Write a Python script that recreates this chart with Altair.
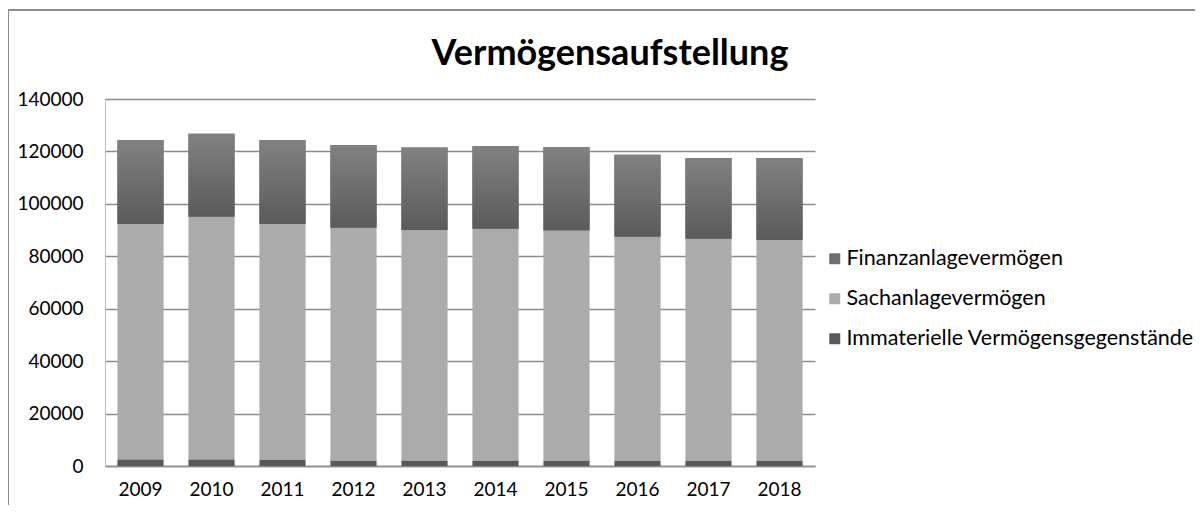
import altair as alt
import pandas as pd

title_text = "Vermögensaufstellung"
years = ["2009", "2010", "2011", "2012", "2013", "2014", "2015", "2016", "2017", "2018"]
immaterielle = [2500, 2500, 2400, 2000, 2000, 2000, 2000, 2000, 2000, 2000]
sachanlage = [89800, 92600, 89900, 88900, 88000, 88500, 87800, 85500, 84700, 84200]
finanzanlage = [32100, 31600, 32100, 31600, 31500, 31600, 31900, 31200, 30800, 31300]

series_names = ["Finanzanlagevermögen", "Sachanlagevermögen", "Immaterielle Vermögensgegenstände"]
stack_order = {"Immaterielle Vermögensgegenstände": 0, "Sachanlagevermögen": 1, "Finanzanlagevermögen": 2}

rows = []
for i, y in enumerate(years):
    for name, vals in zip(series_names, [finanzanlage, sachanlage, immaterielle]):
        rows.append({"Jahr": y, "Serie": name, "Wert": vals[i], "ord": stack_order[name]})
df = pd.DataFrame(rows)

FONT = "Lato"

base = alt.Chart(df).transform_stack(
    stack="Wert", groupby=["Jahr"], as_=["y0", "y1"],
    sort=[alt.SortField("ord", order="ascending")]
)

x_enc = alt.X("Jahr:N", title=None,
              scale=alt.Scale(paddingInner=0.35, paddingOuter=0.175),
              axis=alt.Axis(labelAngle=0, labelFontSize=19, labelFont=FONT, labelColor="#000",
                            labelPadding=14, ticks=False, domainColor="#8c8c8c", domainWidth=1.5))

bars = base.mark_bar().encode(
    x=x_enc,
    y=alt.Y("y0:Q", title=None,
            scale=alt.Scale(domain=[0, 140000]),
            axis=alt.Axis(values=[0, 20000, 40000, 60000, 80000, 100000, 120000, 140000],
                          format="d", labelFontSize=19, labelFont=FONT, labelColor="#000",
                          labelPadding=22, ticks=False, gridColor="#8c8c8c", gridWidth=1.5,
                          domainColor="#bdbdbd", domainWidth=1)),
    y2="y1:Q",
    color=alt.Color("Serie:N",
                    scale=alt.Scale(domain=series_names, range=["#6e6e6e", "#ababab", "#595959"]),
                    legend=alt.Legend(title=None, orient="none", legendX=719, legendY=149,
                                      labelFontSize=21.5, labelFont=FONT, labelColor="#000",
                                      labelLimit=500,
                                      symbolType="square", symbolSize=120, symbolStrokeWidth=0,
                                      rowPadding=17, labelOffset=1)),
)

grad = base.transform_filter(alt.datum.Serie == "Finanzanlagevermögen").mark_bar(
    fill=alt.Gradient(gradient="linear", x1=0, y1=0, x2=0, y2=1,
                      stops=[alt.GradientStop(color="#818181", offset=0),
                             alt.GradientStop(color="#5b5b5b", offset=1)])
).encode(x=alt.X("Jahr:N"), y="y0:Q", y2="y1:Q")

title_mark = alt.Chart(pd.DataFrame({"t": [title_text]})).mark_text(
    font=FONT, fontSize=36, fontWeight="bold", color="#000", align="center", baseline="alphabetic"
).encode(text="t:N", x=alt.value(505), y=alt.value(-34))

frame_top = alt.Chart(df).mark_rule(color="#8c8c8c", strokeWidth=2).encode(
    x=alt.value(-97), x2=alt.value(1090), y=alt.value(-89))
frame_left = alt.Chart(df).mark_rule(color="#8c8c8c", strokeWidth=2).encode(
    x=alt.value(-97), y=alt.value(-90), y2=alt.value(420))

chart = alt.layer(bars, grad, title_mark, frame_top, frame_left).properties(
    width=710, height=367,
    autosize=alt.AutoSizeParams(type="none"),
    padding={"left": 97, "top": 91, "right": 380, "bottom": 39},
).configure_view(stroke=None)

chart.save("out.html", embed_options={"renderer": "svg", "actions": False})
